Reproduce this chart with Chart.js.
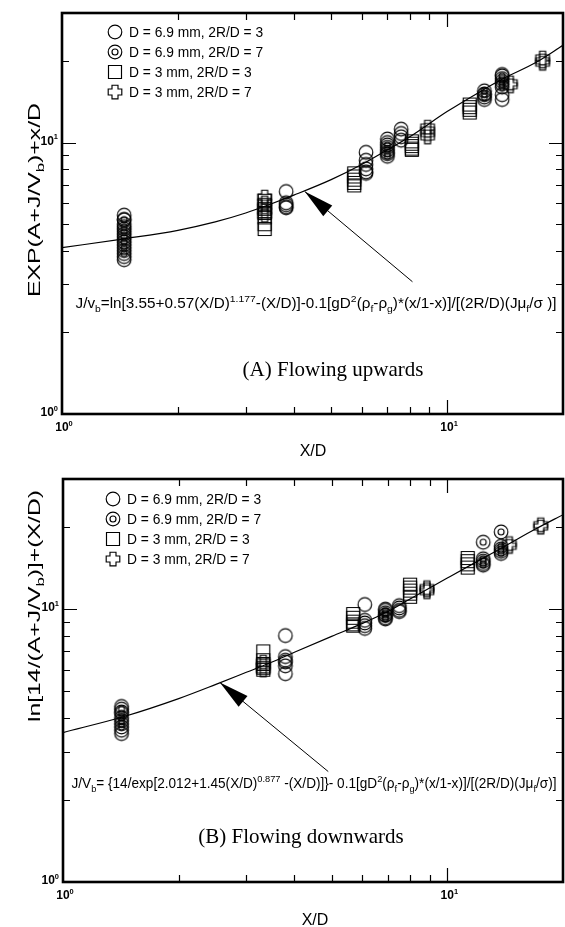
<!DOCTYPE html>
<html>
<head>
<meta charset="utf-8">
<script src="https://cdn.jsdelivr.net/npm/chart.js@4.4.1/dist/chart.umd.min.js"></script>
<style>
  body { margin: 0; background: #fff; }
  canvas { display: block; }
</style>
</head>
<body>
<canvas id="chartA" width="565" height="460"></canvas>
<canvas id="chartB" width="565" height="467"></canvas>
<script>
// series names (same for both panels)
const seriesLabels = ['D = 6.9 mm, 2R/D = 3', 'D = 6.9 mm, 2R/D = 7', 'D = 3 mm, 2R/D = 3', 'D = 3 mm, 2R/D = 7'];

// axis ticks
const xMinorTicks = [2, 3, 4, 5, 6, 7, 8, 9];
const yMinorTicks = [2, 3, 4, 5, 6, 7, 8, 9, 20];
const majorTicks = [1, 10];

// (A) flowing upwards, [X/D, value]
const upOpen = [
  [1.45, 5.4], [1.45, 5.2], [1.45, 5.0], [1.45, 4.8], [1.45, 4.6], [1.45, 4.4], [1.45, 4.2], [1.45, 4.0], [1.45, 3.8], [1.45, 3.7],
  [3.82, 6.6], [3.82, 6.0], [3.82, 5.9], [3.82, 5.8], [3.82, 5.75],
  [6.16, 9.2], [6.16, 8.6], [6.16, 8.3], [6.16, 8.0], [6.16, 7.8], [6.16, 7.7],
  [7.0, 10.3], [7.0, 10.0], [7.0, 9.6], [7.0, 9.2],
  [7.6, 11.2], [7.6, 10.8], [7.6, 10.5], [7.6, 10.2],
  [12.5, 15.0], [12.5, 14.4],
  [13.9, 17.8], [13.9, 15.0], [13.9, 14.4]
];
const upRing = [
  [1.45, 5.2], [1.45, 4.9], [1.45, 4.7], [1.45, 4.5], [1.45, 4.3], [1.45, 4.1], [1.45, 3.9],
  [7.0, 9.8], [7.0, 9.4], [7.0, 9.1], [7.0, 8.9],
  [12.5, 15.5], [12.5, 15.1], [12.5, 14.7],
  [13.9, 17.6], [13.9, 17.2], [13.9, 16.8], [13.9, 16.4], [13.9, 16.0]
];
const upSquare = [
  [3.36, 6.1], [3.36, 5.9], [3.36, 5.7], [3.36, 5.5], [3.36, 5.3], [3.36, 5.0], [3.36, 4.8],
  [5.74, 7.7], [5.74, 7.5], [5.74, 7.3], [5.74, 7.1], [5.74, 6.95],
  [8.1, 10.1], [8.1, 9.9], [8.1, 9.7], [8.1, 9.5], [8.1, 9.4],
  [11.45, 13.8], [11.45, 13.5], [11.45, 13.2], [11.45, 12.9]
];
const upCross = [
  [3.36, 6.3], [3.36, 6.0], [3.36, 5.8], [3.36, 5.6], [3.36, 5.4],
  [8.9, 11.4], [8.9, 11.1], [8.9, 10.8], [8.9, 10.5],
  [14.6, 16.6], [14.6, 16.2],
  [17.7, 20.5], [17.7, 20.0], [17.7, 19.6]
];
const fitX = [1, 1.45, 2, 2.5, 3, 3.5, 4, 5, 6, 7, 8, 10, 12, 14, 17, 20];
const upFitY = [4.1, 4.42, 4.75, 5.1, 5.5, 5.95, 6.4, 7.3, 8.3, 9.4, 10.5, 13.0, 15.2, 17.2, 19.7, 22.8];

// (B) flowing downwards
const downOpen = [
  [1.42, 4.4], [1.42, 4.2], [1.42, 3.6], [1.42, 3.5],
  [3.79, 8.0], [3.79, 6.7], [3.79, 6.5], [3.79, 6.4], [3.79, 6.2], [3.79, 5.8],
  [6.1, 10.4], [6.1, 9.1], [6.1, 8.9], [6.1, 8.7], [6.1, 8.5],
  [6.9, 10.0], [6.9, 9.5],
  [7.5, 10.3], [7.5, 10.1], [7.5, 9.9], [7.5, 9.8]
];
const downRing = [
  [1.42, 4.3], [1.42, 4.15], [1.42, 4.0], [1.42, 3.9], [1.42, 3.8], [1.42, 3.7],
  [6.9, 9.9], [6.9, 9.7], [6.9, 9.5], [6.9, 9.3], [6.9, 9.2],
  [12.4, 17.6], [12.4, 15.3], [12.4, 15.0], [12.4, 14.7], [12.4, 14.5],
  [13.8, 19.2], [13.8, 17.0], [13.8, 16.6], [13.8, 16.3], [13.8, 16.0]
];
const downSquare = [
  [3.32, 7.0], [3.32, 6.5], [3.32, 6.3], [3.32, 6.1], [3.32, 6.0],
  [5.69, 9.6], [5.69, 9.3], [5.69, 9.0], [5.69, 8.8], [5.69, 8.7],
  [8.0, 12.3], [8.0, 12.0], [8.0, 11.7], [8.0, 11.4], [8.0, 11.1],
  [11.3, 15.4], [11.3, 15.0], [11.3, 14.6], [11.3, 14.2]
];
const downCross = [
  [3.32, 6.4], [3.32, 6.2], [3.32, 6.0],
  [8.85, 12.0], [8.85, 11.8], [8.85, 11.6],
  [14.5, 17.4], [14.5, 17.0],
  [17.5, 20.4], [17.5, 20.0]
];
const downFitY = [3.53, 4.05, 4.7, 5.3, 5.87, 6.4, 6.95, 7.95, 8.85, 9.8, 10.9, 13.0, 15.0, 16.9, 19.7, 22.2];

const SANS = '"Liberation Sans", Arial, sans-serif';
const SERIF = '"Liberation Serif", "Times New Roman", serif';

// hollow marker glyphs used as point styles
function makeMarker(kind) {
  const c = document.createElement('canvas');
  c.width = 18; c.height = 18;
  const g = c.getContext('2d');
  g.strokeStyle = '#000';
  g.lineWidth = 1.15;
  g.beginPath();
  if (kind === 'circle' || kind === 'ring') {
    g.arc(9, 9, 6.8, 0, Math.PI * 2);
    if (kind === 'ring') {
      g.moveTo(12, 9);
      g.arc(9, 9, 3, 0, Math.PI * 2);
    }
  } else if (kind === 'square') {
    g.rect(2.5, 2.5, 13, 13);
  } else {
    const a = 3, b = 6.8;
    g.moveTo(9 - a, 9 - b); g.lineTo(9 + a, 9 - b); g.lineTo(9 + a, 9 - a);
    g.lineTo(9 + b, 9 - a); g.lineTo(9 + b, 9 + a); g.lineTo(9 + a, 9 + a);
    g.lineTo(9 + a, 9 + b); g.lineTo(9 - a, 9 + b); g.lineTo(9 - a, 9 + a);
    g.lineTo(9 - b, 9 + a); g.lineTo(9 - b, 9 - a); g.lineTo(9 - a, 9 - a);
    g.closePath();
  }
  g.stroke();
  return c;
}
const markers = ['circle', 'ring', 'square', 'cross'].map(makeMarker);

// text with sub/superscript pieces: [text, 0 | 1 (sup) | -1 (sub)]
// opt.width stretches the run horizontally to that length
function drawRich(ctx, parts, x, y, size, opt = {}) {
  const fam = opt.family || SANS;
  const wt = opt.weight || 'normal';
  const small = size * (opt.small || 0.68);
  const fontFor = m => `${wt} ${m ? small : size}px ${fam}`;
  let w = 0;
  parts.forEach(([t, m]) => { ctx.font = fontFor(m); w += ctx.measureText(t).width; });
  const k = opt.width ? opt.width / w : 1;
  const total = w * k;
  const x0 = opt.align === 'center' ? x - total / 2 : opt.align === 'right' ? x - total : x;
  ctx.save();
  ctx.translate(x0, y);
  ctx.scale(k, 1);
  ctx.textAlign = 'left';
  ctx.textBaseline = 'alphabetic';
  ctx.fillStyle = '#000';
  let cx = 0;
  parts.forEach(([t, m]) => {
    ctx.font = fontFor(m);
    const dy = m === 1 ? -size * 0.45 : m === -1 ? size * 0.25 : 0;
    ctx.fillText(t, cx, dy);
    cx += ctx.measureText(t).width;
  });
  ctx.restore();
}

const decor = {
  id: 'decor',
  afterDraw(chart, args, o) {
    const ctx = chart.ctx;
    const { left, right, top, bottom } = chart.chartArea;
    const xs = chart.scales.x, ys = chart.scales.y;
    ctx.save();
    ctx.strokeStyle = '#000';
    ctx.fillStyle = '#000';

    // ticks on all four sides, pointing inwards
    ctx.lineWidth = 1.2;
    ctx.beginPath();
    xMinorTicks.concat([10]).forEach(v => {
      const px = Math.round(xs.getPixelForValue(v)) + 0.5;
      const len = v === 10 ? 14 : 7;
      ctx.moveTo(px, bottom); ctx.lineTo(px, bottom - len);
      ctx.moveTo(px, top); ctx.lineTo(px, top + len);
    });
    yMinorTicks.concat([10]).forEach(v => {
      const py = Math.round(ys.getPixelForValue(v)) + 0.5;
      const len = v === 10 ? 14 : 7;
      ctx.moveTo(left, py); ctx.lineTo(left + len, py);
      ctx.moveTo(right, py); ctx.lineTo(right - len, py);
    });
    ctx.stroke();

    // frame
    ctx.lineWidth = 2.6;
    ctx.strokeRect(left, top, right - left, bottom - top);

    // tick labels
    majorTicks.forEach(v => {
      const e = String(Math.round(Math.log10(v)));
      drawRich(ctx, [['10', 0], [e, 1]], xs.getPixelForValue(v) + 2, bottom + 17, 12,
        { weight: 'bold', align: 'center', small: 0.62 });
      drawRich(ctx, [['10', 0], [e, 1]], left - 4, ys.getPixelForValue(v) + 2, 12,
        { weight: 'bold', align: 'right', small: 0.62 });
    });

    // axis titles
    drawRich(ctx, [['X/D', 0]], o.xTitle[0], o.xTitle[1], 16, { align: 'center' });
    ctx.save();
    ctx.translate(o.yTitle[0], o.yTitle[1]);
    ctx.rotate(-Math.PI / 2);
    drawRich(ctx, o.yTitleParts, 0, 6, 17, { align: 'center', width: o.yTitle[2] });
    ctx.restore();

    // legend
    seriesLabels.forEach((lab, i) => {
      const ly = o.legend[1] + i * o.legend[2];
      ctx.drawImage(markers[i], o.legend[0] - 9, ly - 9);
      ctx.font = `13.8px ${SANS}`;
      ctx.textAlign = 'left';
      ctx.textBaseline = 'middle';
      ctx.fillText(lab, o.legend[0] + 14, ly + 1);
    });

    // correlation and arrow
    drawRich(ctx, o.formula, o.formulaPos[0], o.formulaPos[1], 14, { align: 'center', width: o.formulaPos[2] });
    const tx = xs.getPixelForValue(o.arrowTip[0]), ty = ys.getPixelForValue(o.arrowTip[1]);
    const sx = xs.getPixelForValue(o.arrowTail[0]), sy = ys.getPixelForValue(o.arrowTail[1]);
    const ang = Math.atan2(ty - sy, tx - sx);
    ctx.lineWidth = 1;
    ctx.beginPath();
    ctx.moveTo(sx, sy);
    ctx.lineTo(tx, ty);
    ctx.stroke();
    const hl = 30, hw = 7;
    ctx.beginPath();
    ctx.moveTo(tx, ty);
    ctx.lineTo(tx - hl * Math.cos(ang) + hw * Math.sin(ang), ty - hl * Math.sin(ang) - hw * Math.cos(ang));
    ctx.lineTo(tx - hl * Math.cos(ang) - hw * Math.sin(ang), ty - hl * Math.sin(ang) + hw * Math.cos(ang));
    ctx.closePath();
    ctx.fill();

    // panel caption
    drawRich(ctx, [[o.caption, 0]], o.captionPos[0], o.captionPos[1], 21, { family: SERIF, align: 'center' });
    ctx.restore();
  }
};

function toPts(arr) { return arr.map(([x, y]) => ({ x, y })); }

function makePanel(id, series, fitY, layout, decorOpts) {
  const datasets = series.map((s, i) => ({
    label: seriesLabels[i],
    data: toPts(s),
    pointStyle: markers[i],
    pointRadius: 7,
    showLine: false
  }));
  datasets.push({
    label: 'fit',
    data: fitX.map((x, i) => ({ x, y: fitY[i] })),
    showLine: true,
    borderColor: '#000',
    borderWidth: 1.2,
    pointRadius: 0,
    cubicInterpolationMode: 'monotone',
    fill: false
  });
  return new Chart(document.getElementById(id), {
    type: 'scatter',
    data: { datasets },
    options: {
      responsive: false,
      animation: false,
      events: [],
      layout: { autoPadding: false, padding: { top: layout.top, right: 2, left: 0, bottom: 0 } },
      scales: {
        x: {
          type: 'logarithmic', min: 1, max: 20,
          ticks: { display: false }, grid: { display: false }, border: { display: false },
          afterFit: s => { s.height = layout.bottom; }
        },
        y: {
          type: 'logarithmic', min: 1, max: 30,
          ticks: { display: false }, grid: { display: false }, border: { display: false },
          afterFit: s => { s.width = layout.left; }
        }
      },
      plugins: { legend: { display: false }, tooltip: { enabled: false }, decor: decorOpts }
    },
    plugins: [decor]
  });
}

makePanel('chartA', [upOpen, upRing, upSquare, upCross], upFitY,
  { top: 13, left: 62, bottom: 46 },
  {
    xTitle: [313, 456],
    yTitle: [34, 200, 194],
    yTitleParts: [['EXP(A+J/V', 0], ['b', -1], [')+x/D', 0]],
    legend: [115, 32, 20],
    formula: [['J/v', 0], ['b', -1], ['=ln[3.55+0.57(X/D)', 0], ['1.177', 1], ['-(X/D)]-0.1[gD', 0], ['2', 1],
      ['(\u03c1', 0], ['f', -1], ['-\u03c1', 0], ['g', -1], [')*(x/1-x)]/[(2R/D)(J\u03bc', 0], ['f', -1], ['/\u03c3 )]', 0]],
    formulaPos: [316, 308, 481],
    arrowTip: [4.27, 6.6],
    arrowTail: [8.13, 3.07],
    caption: '(A) Flowing upwards',
    captionPos: [333, 376]
  });

makePanel('chartB', [downOpen, downRing, downSquare, downCross], downFitY,
  { top: 19, left: 63, bottom: 45 },
  {
    xTitle: [315, 465],
    yTitle: [34, 146, 232],
    yTitleParts: [['ln[14/(A+J/V', 0], ['b', -1], [')]+(X/D)', 0]],
    legend: [113, 39, 20],
    formula: [['J/V', 0], ['b', -1], ['= {14/exp[2.012+1.45(X/D)', 0], ['0.877', 1], [' -(X/D)]}- 0.1[gD', 0], ['2', 1],
      ['(\u03c1', 0], ['f', -1], ['-\u03c1', 0], ['g', -1], [')*(x/1-x)]/[(2R/D)(J\u03bc', 0], ['f', -1], ['/\u03c3)]', 0]],
    formulaPos: [314, 328, 485],
    arrowTip: [2.56, 5.39],
    arrowTail: [4.9, 2.54],
    caption: '(B) Flowing downwards',
    captionPos: [301, 383]
  });
</script>
</body>
</html>
